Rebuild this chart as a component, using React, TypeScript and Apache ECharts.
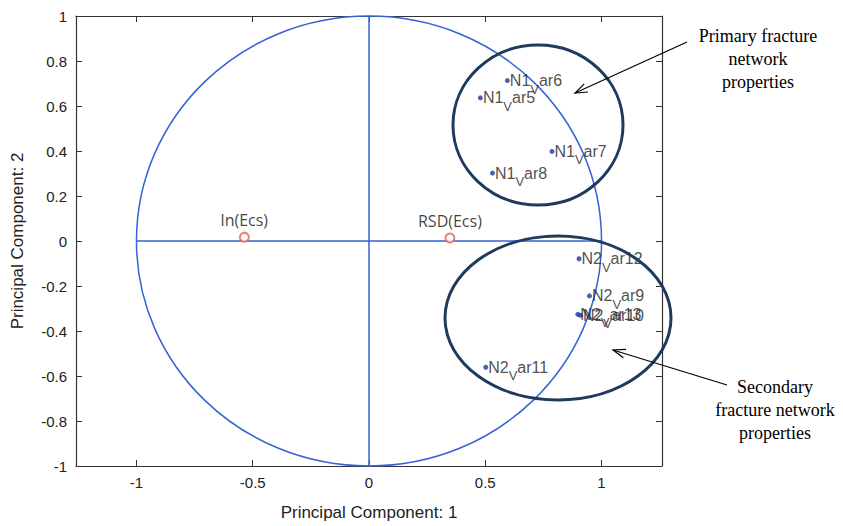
import React, { useEffect, useRef } from "react";
import * as echarts from "echarts";

// Variable loadings (principal component 1, principal component 2)
const varNames = ["N1_Var5", "N1_Var6", "N1_Var7", "N1_Var8", "N2_Var9", "N2_Var10", "N2_Var11", "N2_Var12", "N2_Var13"];
const varPc1 = [0.479, 0.595, 0.787, 0.531, 0.948, 0.909, 0.502, 0.903, 0.898];
const varPc2 = [0.636, 0.713, 0.398, 0.302, -0.244, -0.33, -0.561, -0.079, -0.326];

// Supplementary variables (red circles)
const supNames = ["ln(Ecs)", "RSD(Ecs)"];
const supPc1 = [-0.536, 0.348];
const supPc2 = [0.017, 0.013];

// Axis ticks
const xTicks = [-1, -0.5, 0, 0.5, 1];
const yMin = -1;
const yMax = 1;
const yStep = 0.2;
const xMin = -1.26;
const xMax = 1.26;

// Reference lines
const hLine = [[-1, 0], [1, 0]];
const vLine = [[0, -1], [0, 1]];

const primaryText = ["Primary fracture", "network", "properties"];
const secondaryText = ["Secondary", "fracture network", "properties"];

const BLUE = "#3463d4";
const AXIS = "#333333";
const NAVY = "#1e3a5c";
const TXT = "#222222";

function labelFmt(name: string) {
  const [a, b] = name.split("_");
  return `{a|${a}}{s|${b.charAt(0)}}{a|${b.slice(1)}}`;
}

function arrow(x1: number, y1: number, x2: number, y2: number) {
  const ang = Math.atan2(y1 - y2, x1 - x2);
  const L = 13;
  const spread = 0.35;
  return [
    { type: "line", shape: { x1, y1, x2, y2 }, style: { stroke: "#000", lineWidth: 1.2 }, z: 10 },
    {
      type: "polyline",
      shape: {
        points: [
          [x2 + L * Math.cos(ang + spread), y2 + L * Math.sin(ang + spread)],
          [x2, y2],
          [x2 + L * Math.cos(ang - spread), y2 + L * Math.sin(ang - spread)],
        ],
      },
      style: { stroke: "#000", lineWidth: 1.2, fill: "none" },
      z: 10,
    },
  ];
}

export default function App() {
  const ref = useRef<HTMLDivElement>(null);
  useEffect(() => {
    if (!ref.current) return;
    const chart = echarts.init(ref.current, undefined, { renderer: "svg" });
    const tickFont = { fontFamily: "Liberation Sans", fontSize: 15, color: TXT };
    const option: any = {
      animation: false,
      backgroundColor: "#fff",
      grid: { left: 76, top: 16, right: 181, bottom: 48, show: false },
      xAxis: [
        {
          type: "value",
          min: xMin,
          max: xMax,
          position: "bottom",
          splitLine: { show: false },
          axisLine: { onZero: false, lineStyle: { color: AXIS, width: 1.2 } },
          axisTick: { inside: true, length: 6, customValues: xTicks, lineStyle: { color: AXIS } },
          axisLabel: { customValues: xTicks, margin: 9, ...tickFont },
          name: "Principal Component: 1",
          nameLocation: "middle",
          nameGap: 38,
          nameTextStyle: { fontFamily: "Liberation Sans", fontSize: 17, color: TXT },
        },
        {
          type: "value",
          min: xMin,
          max: xMax,
          position: "top",
          splitLine: { show: false },
          axisLine: { onZero: false, lineStyle: { color: AXIS, width: 1.2 } },
          axisTick: { inside: true, length: 6, customValues: xTicks, lineStyle: { color: AXIS } },
          axisLabel: { show: false },
        },
      ],
      yAxis: [
        {
          type: "value",
          min: yMin,
          max: yMax,
          interval: yStep,
          position: "left",
          splitLine: { show: false },
          axisLine: { onZero: false, show: true, lineStyle: { color: AXIS, width: 1.2 } },
          axisTick: { show: true, inside: true, length: 6, lineStyle: { color: AXIS } },
          axisLabel: { margin: 9, ...tickFont },
          name: "Principal Component: 2",
          nameLocation: "middle",
          nameGap: 50,
          nameRotate: 90,
          nameTextStyle: { fontFamily: "Liberation Sans", fontSize: 17, color: TXT },
        },
        {
          type: "value",
          min: yMin,
          max: yMax,
          interval: yStep,
          position: "right",
          splitLine: { show: false },
          axisLine: { onZero: false, show: true, lineStyle: { color: AXIS, width: 1.2 } },
          axisTick: { show: true, inside: true, length: 6, lineStyle: { color: AXIS } },
          axisLabel: { show: false },
        },
      ],
      series: [
        {
          type: "line",
          data: hLine,
          symbol: "none",
          lineStyle: { color: BLUE, width: 1.5 },
          z: 2,
        },
        {
          type: "line",
          data: vLine,
          symbol: "none",
          lineStyle: { color: BLUE, width: 1.5 },
          z: 2,
        },
        {
          type: "scatter",
          symbol: "circle",
          symbolSize: 5,
          itemStyle: { color: "#1c3a9c" },
          data: varNames.map((n, i) => ({ name: n, value: [varPc1[i], varPc2[i]] })),
          label: {
            show: true,
            position: "right",
            distance: 0,
            formatter: (p: any) => labelFmt(p.name),
            rich: {
              a: { fontFamily: "Liberation Sans", fontSize: 16, color: TXT, lineHeight: 16, verticalAlign: "top" },
              s: { fontFamily: "Liberation Sans", fontSize: 13, color: TXT, lineHeight: 13, padding: [10, 0, 0, 0], verticalAlign: "top" },
            },
          },
          z: 5,
        },
        {
          type: "scatter",
          symbol: "emptyCircle",
          symbolSize: 9,
          itemStyle: { color: "#e8604c", borderWidth: 2 },
          data: supNames.map((n, i) => ({ name: n, value: [supPc1[i], supPc2[i]] })),
          label: {
            show: true,
            position: "top",
            distance: 4,
            formatter: (p: any) => p.name,
            fontFamily: "Open Sans",
            fontSize: 16,
            color: "#111",
          },
          z: 5,
        },
      ],
    };
    chart.setOption(option);

    const c = chart.convertToPixel({ xAxisIndex: 0, yAxisIndex: 0 }, [0, 0]) as number[];
    const p = chart.convertToPixel({ xAxisIndex: 0, yAxisIndex: 0 }, [1, 1]) as number[];
    const rx = Math.abs(p[0] - c[0]);
    const ry = Math.abs(c[1] - p[1]);

    const textLines = (lines: string[], cx: number, y0: number) =>
      lines.map((t, i) => ({
        type: "text",
        x: cx,
        y: y0 + i * 23,
        z: 10,
        style: {
          text: t,
          fill: "#000",
          font: "18px 'Liberation Serif'",
          textAlign: "center",
          textVerticalAlign: "middle",
        },
      }));

    chart.setOption({
      graphic: [
        {
          type: "ellipse",
          shape: { cx: c[0], cy: c[1], rx, ry },
          style: { stroke: BLUE, lineWidth: 1.5, fill: "none" },
          z: 1,
        },
        {
          type: "ellipse",
          shape: { cx: 538, cy: 125, rx: 85, ry: 80 },
          style: { stroke: NAVY, lineWidth: 3, fill: "none" },
          z: 9,
        },
        {
          type: "ellipse",
          shape: { cx: 558, cy: 318, rx: 113, ry: 82 },
          style: { stroke: NAVY, lineWidth: 3, fill: "none" },
          z: 9,
        },
        ...arrow(687, 42, 575, 93),
        ...arrow(727, 385, 613, 350),
        ...textLines(primaryText, 758, 36),
        ...textLines(secondaryText, 775, 387),
      ],
    });

    return () => chart.dispose();
  }, []);
  return (
    <div
      ref={ref}
      style={{ position: "fixed", left: 0, top: 0, width: 843, height: 526, background: "#fff" }}
    />
  );
}
